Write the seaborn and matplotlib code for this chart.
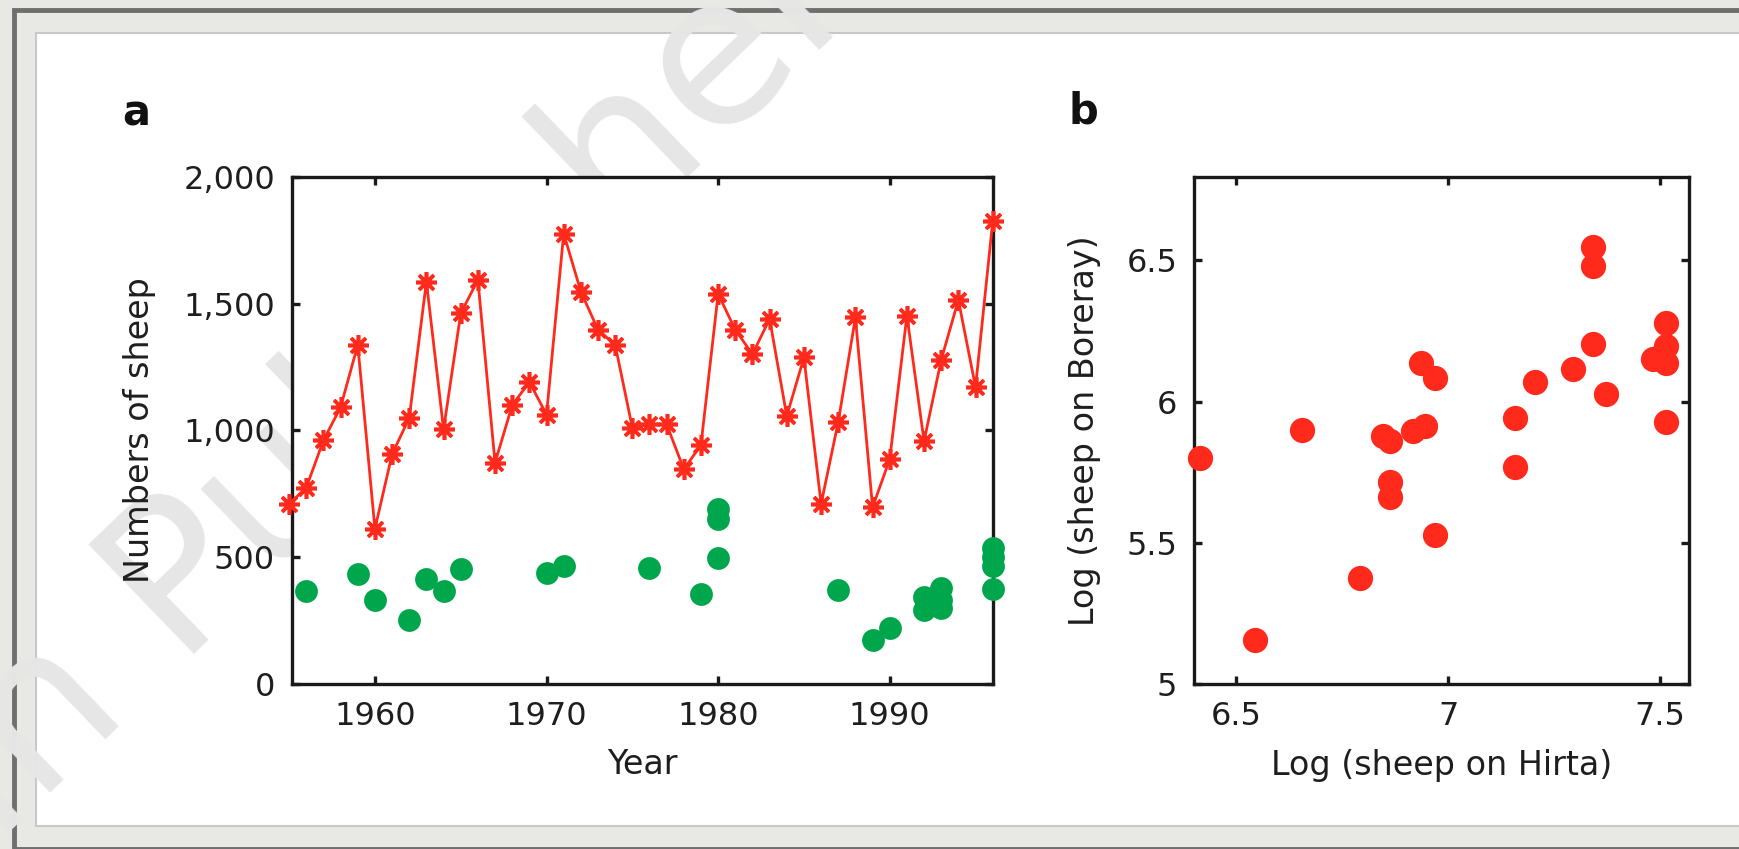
import numpy as np
import pandas as pd
import matplotlib
matplotlib.use("Agg")
import matplotlib.pyplot as plt
from matplotlib.patches import Rectangle
import seaborn as sns

# ---------------- data ----------------
hirta_years = list(range(1955, 1997))
hirta_counts = [710, 775, 961, 1092, 1338, 612, 906, 1050, 1587, 1004,
                1462, 1594, 873, 1100, 1191, 1063, 1777, 1548, 1397, 1338,
                1011, 1024, 1024, 847, 943, 1539, 1397, 1301, 1440, 1057,
                1288, 710, 1034, 1446, 697, 887, 1453, 958, 1279, 1515,
                1171, 1825]

boreray_years = [1956, 1959, 1960, 1962, 1963, 1964, 1965, 1970, 1971, 1976,
                 1979, 1980, 1980, 1980, 1987, 1989, 1990, 1992, 1992, 1993,
                 1993, 1993, 1996, 1996, 1996, 1996]
boreray_counts = [366, 432, 333, 251, 415, 366, 452, 439, 467, 458,
                  356, 690, 651, 498, 369, 173, 219, 345, 290, 380,
                  330, 300, 535, 500, 465, 375]

log_hirta = [6.415, 6.655, 6.545, 6.791, 6.847, 6.863, 6.863, 6.863, 6.918,
             6.946, 6.936, 6.969, 6.969, 7.158, 7.158, 7.205, 7.294, 7.341,
             7.341, 7.341, 7.372, 7.513, 7.513, 7.484, 7.513, 7.513, 7.505]
log_boreray = [5.802, 5.900, 5.157, 5.377, 5.879, 5.862, 5.715, 5.662, 5.897,
               5.915, 6.138, 6.085, 5.529, 5.944, 5.768, 6.068, 6.115, 6.203,
               6.549, 6.479, 6.026, 6.277, 6.197, 6.150, 6.138, 5.927, 6.165]

a_yticks = [0, 500, 1000, 1500, 2000]
a_yticklabels = ["0", "500", "1,000", "1,500", "2,000"]
a_xticks = [1960, 1970, 1980, 1990]
b_xticks = [6.5, 7, 7.5]
b_xticklabels = ["6.5", "7", "7.5"]
b_yticks = [5, 5.5, 6, 6.5]
b_yticklabels = ["5", "5.5", "6", "6.5"]

df_h = pd.DataFrame({"Year": hirta_years, "Count": hirta_counts})
df_b = pd.DataFrame({"Year": boreray_years, "Count": boreray_counts})
df_s = pd.DataFrame({"LH": log_hirta, "LB": log_boreray})

# ---------------- style ----------------
sns.set_theme(style="white")
plt.rcParams["font.family"] = ["DejaVu Sans"]
RED = "#ff2a1c"
GREEN = "#00a64c"
TXT = "#1e1e1e"

W, H = 1739, 849
fig = plt.figure(figsize=(W / 100, H / 100), dpi=100, facecolor="#e8e8e5")

# page frame
fig.patches.append(Rectangle((14 / W, 0), 1, 1 - 10 / H, transform=fig.transFigure,
                             facecolor="#e8e8e5", edgecolor="#6f6f6f", lw=3.5, zorder=0))
fig.patches.append(Rectangle((36 / W, 1 - 826 / H), 1, (826 - 33) / H,
                             transform=fig.transFigure, facecolor="white",
                             edgecolor="#c8c8c8", lw=1.5, zorder=0.2))

# watermark
wm_x, wm_y = 180 / W, 1 - 668 / H
fig.text(wm_x, wm_y, "Macmillan ", rotation=44, rotation_mode="anchor",
         fontsize=150, color="#e6e6e6", ha="right", va="baseline", zorder=0.5)
fig.text(wm_x, wm_y, "Publishers Ltd", rotation=44, rotation_mode="anchor",
         fontsize=150, color="#e6e6e6", ha="left", va="baseline", zorder=0.5)

axA = fig.add_axes([291.7 / W, 1 - 684 / H, 701 / W, 507 / H])
axB = fig.add_axes([1194 / W, 1 - 684.3 / H, 495.3 / W, 507 / H])
axA.set_zorder(2)
axB.set_zorder(2)

# ---------------- panel a ----------------
sns.lineplot(data=df_h, x="Year", y="Count", ax=axA, color=RED, lw=2.0,
             marker=(8, 2, 0), markersize=15, markeredgewidth=2.6,
             markeredgecolor=RED, clip_on=False, zorder=3)
sns.scatterplot(data=df_b, x="Year", y="Count", ax=axA, color=GREEN, s=270,
                linewidth=0, clip_on=False, zorder=4)
axA.set_xlim(1955.15, 1996)
axA.set_ylim(0, 2000)
axA.set_xticks(a_xticks)
axA.set_xticklabels([str(t) for t in a_xticks])
axA.set_yticks(a_yticks)
axA.set_yticklabels(a_yticklabels)
axA.set_xlabel("Year", fontsize=24, color=TXT, labelpad=12)
axA.set_ylabel("Numbers of sheep", fontsize=24, color=TXT, labelpad=20)

# ---------------- panel b ----------------
sns.scatterplot(data=df_s, x="LH", y="LB", ax=axB, color=RED, s=330,
                linewidth=0, clip_on=False, zorder=4)
axB.set_xlim(6.4, 7.569)
axB.set_ylim(5, 6.794)
axB.set_xticks(b_xticks)
axB.set_xticklabels(b_xticklabels)
axB.set_yticks(b_yticks)
axB.set_yticklabels(b_yticklabels)
axB.set_xlabel("Log (sheep on Hirta)", fontsize=24, color=TXT, labelpad=12)
axB.set_ylabel("Log (sheep on Boreray)", fontsize=24, color=TXT, labelpad=18)

for ax in (axA, axB):
    ax.set_facecolor("white")
    for sp in ax.spines.values():
        sp.set_visible(True)
        sp.set_color("#1a1a1a")
        sp.set_linewidth(2.4)
    ax.tick_params(direction="in", length=6, width=2.4, color="#1a1a1a",
                   top=True, right=True, bottom=True, left=True,
                   labelsize=23, labelcolor=TXT, pad=12)
    ax.grid(False)
    if ax.get_legend():
        ax.get_legend().remove()

fig.text(122 / W, 1 - 125 / H, "a", fontsize=30, fontweight="bold", color="#111111",
         ha="left", va="baseline", zorder=3)
fig.text(1068 / W, 1 - 124 / H, "b", fontsize=30, fontweight="bold", color="#111111",
         ha="left", va="baseline", zorder=3)

fig.savefig("out.png", dpi=100, facecolor=fig.get_facecolor())
